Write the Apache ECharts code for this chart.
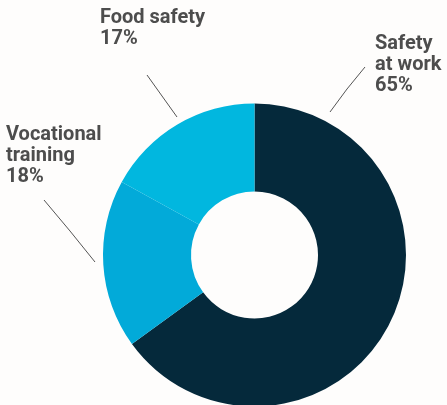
<!DOCTYPE html>
<html>
<head>
<meta charset="utf-8">
<script src="https://cdn.jsdelivr.net/npm/echarts@6/dist/echarts.min.js"></script>
<style>
  html, body { margin: 0; padding: 0; background: #fefdfc; }
  #chart { width: 447px; height: 405px; }
</style>
</head>
<body>
<div id="chart"></div>
<script>
// Share of training hours by topic (%)
const categories = ['Safety at work', 'Vocational training', 'Food safety'];
const labelTexts = ['Safety\nat work', 'Vocational\ntraining', 'Food safety'];
const shares = [65, 18, 17];
const colors = ['#05293b', '#02aad9', '#01b7df'];

// Label boxes (top-left corner) and leader lines, in pixels
const labelBoxes = [
  { x: 375, y: 33, line: [[365, 67], [347, 89], [330, 112]] },
  { x: 6, y: 124, line: [[44, 200], [70, 231], [95, 262]] },
  { x: 100, y: 7, line: [[147, 75], [162, 96], [177, 117]] }
];

const chart = echarts.init(document.getElementById('chart'), null, { renderer: 'canvas' });

chart.setOption({
  backgroundColor: '#fefdfc',
  animation: false,
  series: [{
    type: 'pie',
    center: [254.5, 255],
    radius: [63.5, 151.5],
    startAngle: 90,
    clockwise: true,
    avoidLabelOverlap: false,
    data: categories.map((name, i) => ({
      name: name,
      value: shares[i],
      itemStyle: { color: colors[i] }
    })),
    label: {
      show: true,
      formatter: p => labelTexts[p.dataIndex] + '\n' + p.value + '%',
      color: '#4d4d4d',
      fontFamily: 'Roboto',
      fontWeight: 'bold',
      fontSize: 20,
      lineHeight: 21,
      align: 'left'
    },
    labelLine: {
      show: true,
      smooth: false,
      lineStyle: { color: '#555555', width: 1 }
    },
    labelLayout: p => {
      const b = labelBoxes[p.dataIndex];
      return {
        x: b.x,
        y: b.y,
        align: 'left',
        verticalAlign: 'top',
        labelLinePoints: b.line
      };
    },
    emphasis: { disabled: true }
  }]
});
</script>
</body>
</html>
